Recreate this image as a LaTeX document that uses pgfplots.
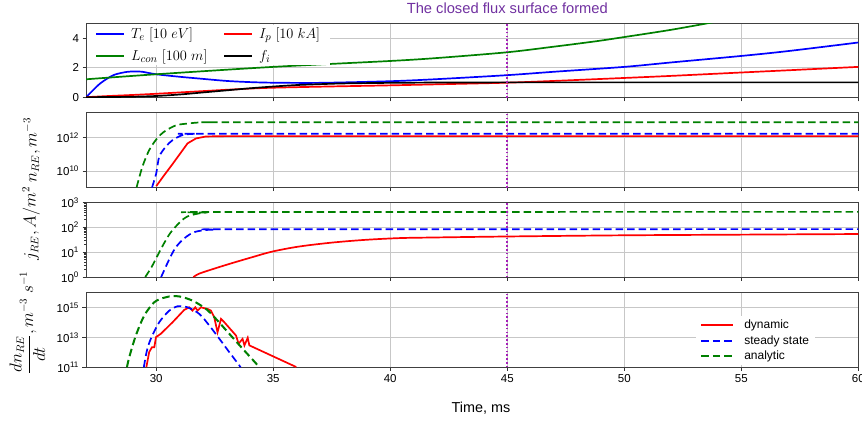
\documentclass[border=0pt]{standalone}
\usepackage{fontspec}
\setmainfont{Liberation Sans}
\usepackage{pgfplots}
\pgfplotsset{compat=1.18}
\definecolor{mplblue}{rgb}{0,0,1}
\definecolor{mplred}{rgb}{1,0,0}
\definecolor{mplgreen}{rgb}{0,0.5,0}
\definecolor{vline}{RGB}{165,30,185}
\definecolor{ttl}{RGB}{112,48,160}
\pgfplotsset{
  base/.style={scale only axis, width=772.3pt, height=74.6pt,
    xmin=27, xmax=60, xtick={30,35,...,60},
    grid=major, grid style={color=black!22, line width=0.8pt},
    tick align=outside, xtick pos=bottom, ytick pos=left,
    major tick length=3.5pt, minor tick length=2pt,
    tick style={black!80, line width=0.8pt},
    axis line style={black!75, line width=0.9pt},
    tick label style={font=\fontsize{11.5}{13}\selectfont},
    /pgf/number format/assume math mode=true,
    anchor=north west,
    ylabel style={font=\fontsize{16}{18}\selectfont, anchor=center},
  },
  ln/.style={line width=1.7pt},
  dsh/.style={line width=1.7pt, dash pattern=on 7.5pt off 4pt},
  vl/.style={vline, line width=2pt, dash pattern=on 1.6pt off 2.2pt},
}
\newcommand{\plab}[1]{\node[anchor=base west, inner sep=0pt, font=\bfseries\fontsize{11.5}{13}\selectfont] at (rel axis cs:0,1) [yshift=5.5pt] {#1};}
\begin{document}
\begin{tikzpicture}
\path[use as bounding box] (0pt,0pt) rectangle (862pt,-421pt);
% (a)
\begin{axis}[base, at={(86pt,-23.3pt)}, ymin=-0.05, ymax=5, ytick={0,2,4},
  xticklabels={},
  legend columns=2,
  legend style={at={(axis description cs:0.0015,0.985)}, anchor=north west, draw=none, fill=white,
    font=\fontsize{15}{17}\selectfont, inner xsep=8pt, inner ysep=1pt,
    /tikz/every even column/.append style={column sep=14pt},
    /tikz/every odd column/.append style={column sep=4pt}, row sep=6pt},
  legend cell align=left,
  legend image code/.code={\draw[#1] (0pt,0pt) -- (28pt,0pt);},
]
\addplot[ln, mplblue, smooth] coordinates {(27,0) (27.1,0.15) (27.6,0.92) (28.17,1.49) (28.74,1.71) (29.1,1.74) (29.4,1.72) (30,1.55) (31,1.38) (31.84,1.26) (33,1.1) (34,1.02) (35,0.98) (37,0.97) (40,1.08) (42,1.22) (45,1.49) (47,1.72) (50,2.05) (52,2.35) (55,2.79) (57,3.12) (60,3.70)};
\addlegendentry{$T_e\ [10\ eV]$}
\addplot[ln, mplred, smooth] coordinates {(27,0) (28,0.08) (29,0.15) (30,0.23) (31,0.32) (32,0.41) (33,0.5) (34,0.58) (35,0.64) (37,0.71) (40,0.8) (42,0.87) (45,0.98) (47,1.1) (50,1.3) (52,1.44) (55,1.67) (57,1.82) (60,2.05)};
\addlegendentry{$I_p\ [10\ kA]$}
\addplot[ln, mplgreen, smooth] coordinates {(27,1.21) (30,1.55) (35,2.05) (40,2.45) (42,2.65) (45,3.04) (47,3.42) (48,3.62) (49,3.83) (50,4.07) (51,4.31) (52,4.56) (53,4.84) (54,5.13)};
\addlegendentry{$L_{con}\ [100\ m]$}
\addplot[ln, black, smooth] coordinates {(27,0.0) (28,0.01) (29,0.03) (30,0.08) (31,0.18) (32,0.32) (33,0.46) (34,0.6) (35,0.72) (36,0.82) (37,0.88) (38,0.93) (40,0.97) (42,0.99) (45,1.0) (60,1.0)};
\addlegendentry{$f_i$}
\addplot[vl, forget plot] coordinates {(45,-0.05) (45,5)};
\plab{(a)}
\end{axis}
\node[anchor=base, inner sep=0pt, font=\fontsize{14.7}{16}\selectfont, text=ttl] at (507.3pt,-13.8pt) {The closed flux surface formed};
% (b)
\begin{axis}[base, at={(86pt,-112.9pt)}, ymode=log, ymin=1e9, ymax=3.16e13,
  ytick={1e10,1e12}, yticklabels={10\textsuperscript{10},10\textsuperscript{12}},
  xticklabels={},
  ylabel={$n_{RE}, m^{-3}$},
  ylabel style={at={(axis description cs:-0.0705,0.5)}},
]
\addplot[dsh, mplgreen, smooth] coordinates {(29.16,1e9) (29.41,1.8e10) (29.7,1.8e11) (30.0,7.9e11) (30.2,1.6e12) (30.44,2.9e12) (30.87,5.8e12) (31.3,7.1e12) (31.8,8.3e12) (32.5,8.7e12) (34,8.7e12) (60,8.7e12)};
\addplot[dsh, mplblue, smooth] coordinates {(29.82,1e9) (30.0,7e9) (30.13,7.2e10) (30.41,2.9e11) (30.7,7.2e11) (31.13,1.45e12) (31.7,1.74e12) (33,1.74e12) (60,1.74e12)};
\addplot[ln, mplred] coordinates {(30.0,1.2e9) (30.3,4.6e9) (30.65,2.1e10) (31.0,1e11) (31.34,4.6e11) (31.7,9.1e11) (32.13,1.2e12) (33,1.26e12) (60,1.26e12)};
\addplot[vl, forget plot] coordinates {(45,1e9) (45,3.16e13)};
\plab{(b)}
\end{axis}
% (c)
\begin{axis}[base, at={(86pt,-202.5pt)}, ymode=log, ymin=1, ymax=1000,
  ytick={1,10,100,1000}, yticklabels={10\textsuperscript{0},10\textsuperscript{1},10\textsuperscript{2},10\textsuperscript{3}},
  minor ytick={2,3,4,5,6,7,8,9,20,30,40,50,60,70,80,90,200,300,400,500,600,700,800,900},
  xticklabels={},
  ylabel={$j_{RE}, A/m^2$},
  ylabel style={at={(axis description cs:-0.071,0.715)}},
]
\addplot[dsh, mplgreen, smooth] coordinates {(29.53,1) (29.8,2.5) (30.0,5.8) (30.3,20) (30.6,59) (31.0,158) (31.3,265) (31.7,345) (32.1,390) (33,415) (60,420)};
\addplot[dsh, mplblue, smooth] coordinates {(30.21,1) (30.4,2.5) (30.6,6.3) (30.8,14) (31.0,24) (31.3,43) (31.6,63) (32,76) (32.5,81) (34,84) (60,85)};
\addplot[ln, mplred, smooth] coordinates {(31.59,1.0) (31.84,1.38) (32.55,2.3) (33.26,3.7) (34.12,6.4) (34.97,10.7) (36.11,17) (37.54,24.6) (38.96,31.6) (40.38,37) (41.7,39) (45,43) (50,48) (55,51) (60,54)};
\addplot[vl, forget plot] coordinates {(45,1) (45,1000)};
\plab{(c)}
\end{axis}
% (d)
\begin{axis}[base, at={(86pt,-292.7pt)}, ymode=log, ymin=1e11, ymax=1e16,
  ytick={1e11,1e13,1e15}, yticklabels={10\textsuperscript{11},10\textsuperscript{13},10\textsuperscript{15}},
  xlabel={Time, ms},
  xlabel style={at={(axis description cs:0.5115,0)}, anchor=base, yshift=-45pt, font=\fontsize{14.4}{16}\selectfont},
  ylabel={${\displaystyle\frac{dn_{RE}}{dt}}, m^{-3}\ s^{-1}$},
  ylabel style={at={(axis description cs:-0.076,0.6)}},
  legend style={at={(axis description cs:0.79,0.69)}, anchor=north west, draw=none, fill=white,
    font=\fontsize{12}{14}\selectfont, inner xsep=4pt, inner ysep=2pt, row sep=1.4pt,
    /tikz/every odd column/.append style={column sep=8pt}},
  legend cell align=left,
  legend image code/.code={\draw[#1] (0pt,0pt) -- (32pt,0pt);},
]
\addplot[ln, mplred] coordinates {(29.58,1.05e11) (29.70,1.05e12) (29.82,2.24e12) (29.92,2.24e12) (29.99,1.05e13) (30.2,1.78e13) (30.7,1.05e14) (31.2,7.1e14) (31.41,1.05e15) (31.55,6.3e14) (31.67,1.05e15) (31.77,6.3e14) (31.91,1.05e15) (32.2,8.1e14) (32.34,6.3e14) (32.48,2.24e14) (32.62,2.24e13) (32.77,1.78e14) (32.91,1.05e14) (33.41,1.35e13) (33.52,3.8e12) (33.69,8.1e12) (33.77,2.95e12) (33.91,9.5e12) (33.98,2.95e12) (35.98,1.05e11)};
\addlegendentry{dynamic}
\addplot[dsh, mplblue, smooth] coordinates {(29.47,1e11) (29.6,1.26e12) (29.77,8.1e12) (30.13,1.05e14) (30.56,6.3e14) (30.91,1.23e15) (31.34,1.05e15) (31.84,3.8e14) (32.27,6.3e13) (32.7,8.1e12) (33.12,1.05e12) (33.55,1.35e11) (33.6,1e11)};
\addlegendentry{steady state}
\addplot[line width=2pt, mplgreen, dash pattern=on 7.5pt off 4pt, smooth] coordinates {(28.75,1e11) (28.85,4.9e11) (29.13,1.35e13) (29.49,2.95e14) (29.91,2.24e15) (30.3,4.47e15) (30.56,5.6e15) (30.99,5.6e15) (31.55,2.95e15) (32.13,8.1e14) (32.55,1.78e14) (33.12,1.78e13) (33.69,1.78e12) (34.27,1.78e11) (34.38,1e11)};
\addlegendentry{analytic}
\addplot[vl, forget plot] coordinates {(45,1e11) (45,1e16)};
\plab{(d)}
\end{axis}
\end{tikzpicture}
\end{document}
